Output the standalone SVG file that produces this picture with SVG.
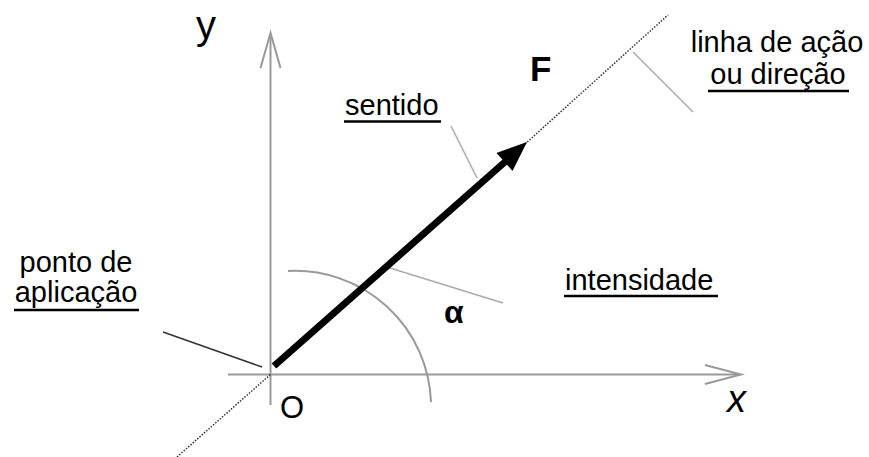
<svg xmlns="http://www.w3.org/2000/svg" width="869" height="457" viewBox="0 0 869 457">
<style>
.t{font-family:"Liberation Sans",Arial,sans-serif;fill:#000;}
.lbl{font-size:29px;}
.ul{stroke:#000;stroke-width:2.5;}
.axis{stroke:#999;stroke-width:2;fill:none;}
.lead{stroke:#aaa;stroke-width:1.5;fill:none;}
.dot{stroke:#333;stroke-width:1.5;stroke-dasharray:1.5 1.5;fill:none;}
</style>
<rect width="869" height="457" fill="#fff"/>
<g id="axes">
<line class="axis" x1="270.5" y1="34" x2="270.5" y2="405"/>
<polyline class="axis" points="260.5,68 270.5,33 280.5,68"/>
<line class="axis" x1="228" y1="374.5" x2="740" y2="374.5"/>
<polyline class="axis" points="705,365 741,374.5 705,384"/>
<path class="axis" d="M288,271 A136,136 0 0 1 431,402"/>
</g>
<g id="line-of-action">
<line class="dot" x1="177" y1="457" x2="271" y2="374"/>
<line class="dot" x1="525" y1="144" x2="668" y2="15"/>
</g>
<g id="connectors">
<line class="lead" x1="633" y1="52" x2="693" y2="112"/>
<line class="lead" x1="451" y1="126" x2="477" y2="178"/>
<line class="lead" x1="390" y1="268" x2="503" y2="303"/>
<line stroke="#333" stroke-width="1.5" x1="163" y1="332" x2="262" y2="367"/>
</g>
<g id="vector-F">
<line stroke="#000" stroke-width="7" x1="274" y1="366" x2="506" y2="161"/>
<polygon fill="#000" points="527,142 512.5,170.9 496.5,152.9"/>
</g>
<g id="label-y"><text class="t" x="196" y="39" font-size="40">y</text></g>
<g id="label-O"><text class="t" x="280" y="418" font-size="31">O</text></g>
<g id="label-x"><text class="t" x="727" y="412" font-size="38" font-style="italic">x</text></g>
<g id="label-F"><text class="t" x="530" y="81" font-size="35" font-weight="bold">F</text></g>
<g id="label-alpha"><text class="t" x="444" y="323" font-size="32" font-weight="bold">α</text></g>
<g id="label-sentido">
<text class="t lbl" x="345" y="115">sentido</text>
<line class="ul" x1="344" y1="121.5" x2="441" y2="121.5"/>
</g>
<g id="label-intensidade">
<text class="t lbl" x="565" y="290">intensidade</text>
<line class="ul" x1="564" y1="296" x2="718" y2="296"/>
</g>
<g id="label-linha">
<text class="t lbl" x="777" y="52" text-anchor="middle">linha de ação</text>
<text class="t lbl" x="778" y="84" text-anchor="middle">ou direção</text>
<line class="ul" x1="708" y1="91" x2="849" y2="91"/>
</g>
<g id="label-ponto">
<text class="t lbl" x="76" y="272" text-anchor="middle">ponto de</text>
<text class="t lbl" x="76" y="302" text-anchor="middle">aplicação</text>
<line class="ul" x1="14" y1="310" x2="139" y2="310"/>
</g>
</svg>
